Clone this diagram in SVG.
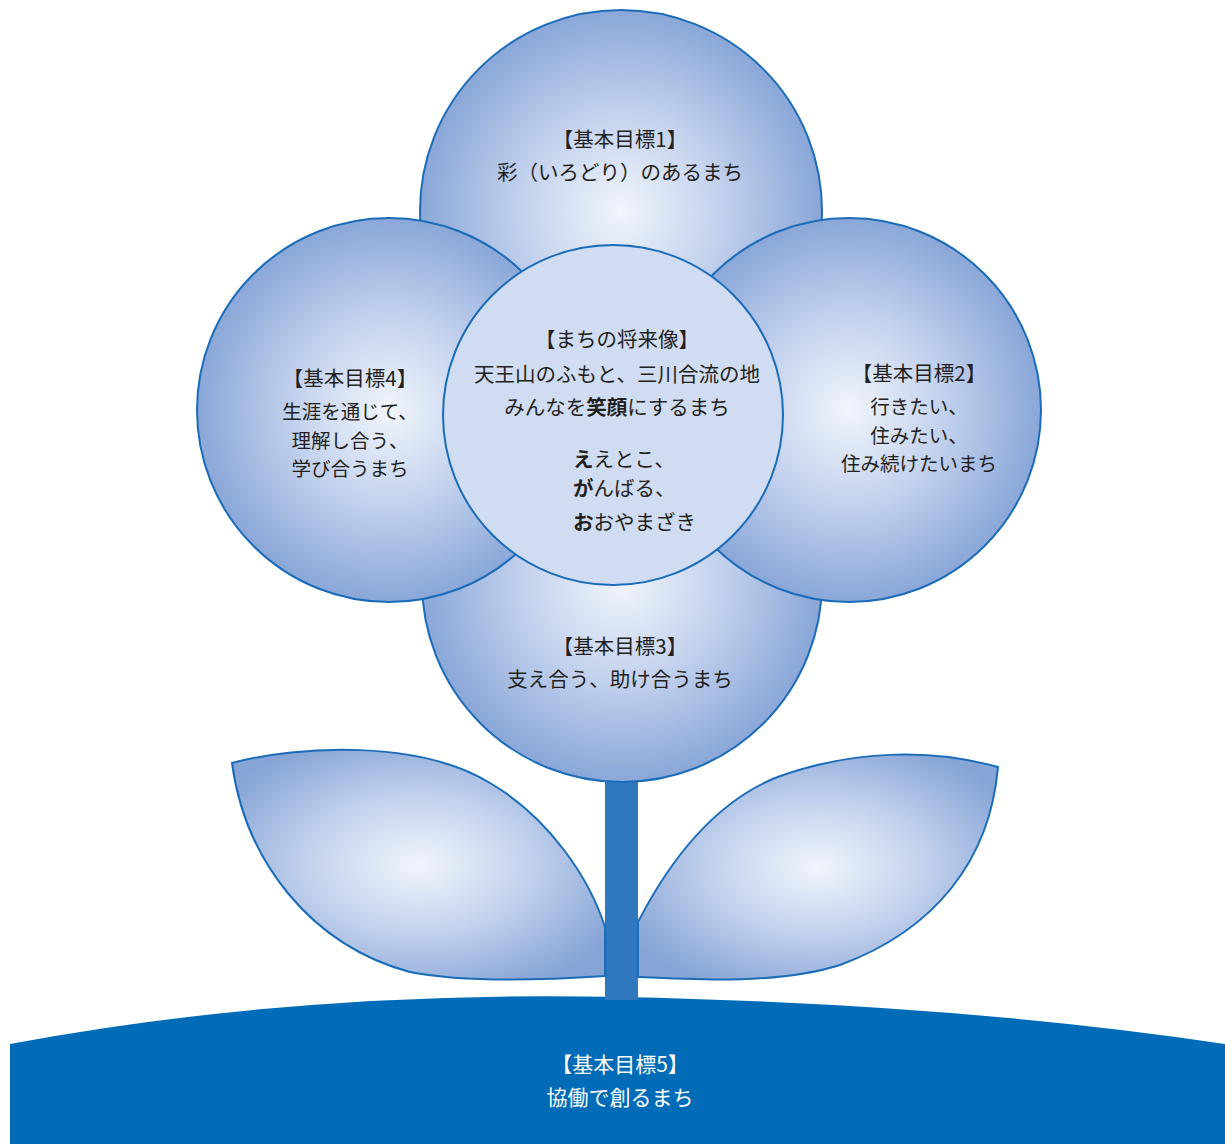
<svg xmlns="http://www.w3.org/2000/svg" width="1225" height="1144" viewBox="0 0 1225 1144">
<defs>
<radialGradient id="petal" cx="50%" cy="50%" r="50%">
<stop offset="0" stop-color="#f1f5fc"/>
<stop offset="0.5" stop-color="#c2d1ed"/>
<stop offset="1" stop-color="#8aa7d8"/>
</radialGradient>
<radialGradient id="leafL" cx="0.5" cy="0.5" r="0.6">
<stop offset="0" stop-color="#f1f5fc"/>
<stop offset="0.5" stop-color="#c2d1ed"/>
<stop offset="1" stop-color="#86a4d6"/>
</radialGradient>
<style>
.petal{fill:url(#petal);stroke:#1b6cb8;stroke-width:2}
.leaf{fill:url(#leafL);stroke:#1b6cb8;stroke-width:2}
.core{fill:#d0dcf2;stroke:#1b6cb8;stroke-width:2}
text{font-family:"Noto Sans CJK JP","Noto Sans CJK SC",sans-serif;font-size:20.5px;fill:#231f20;text-anchor:middle}
.s{font-size:19.5px}
.b{font-weight:bold}
.w{fill:#ffffff;font-size:21px}
.l{text-anchor:start}
</style>
</defs>
<g id="ground">
<path d="M10 1044 Q300 990 620 997 Q960 1004 1225 1044 L1225 1144 L10 1144 Z" fill="#006bb6"/>
<text class="w" x="620" y="1072">【基本目標5】</text>
<text class="w" x="620" y="1105">協働で創るまち</text>
</g>
<g id="stem">
<rect x="605" y="775" width="33" height="225" fill="#2f78c0"/>
</g>
<g id="leaf-left">
<path class="leaf" d="M232 763 C300 745 420 740 490 783 C550 818 590 880 605 927 L605 976 C560 979 470 984 410 972 C310 945 245 860 232 763 Z"/>
</g>
<g id="leaf-right">
<path class="leaf" d="M998 767 C930 748 850 750 775 778 C715 803 670 860 638 922 L638 977 C700 980 780 984 840 965 C935 930 990 860 998 767 Z"/>
</g>
<g id="goal1">
<circle class="petal" cx="621" cy="211" r="201"/>
<text x="620" y="147">【基本目標1】</text>
<text x="620" y="180">彩（いろどり）のあるまち</text>
</g>
<g id="goal3">
<circle class="petal" cx="622" cy="582" r="200"/>
<text x="620" y="654">【基本目標3】</text>
<text x="620" y="687">支え合う、助け合うまち</text>
</g>
<g id="goal4">
<circle class="petal" cx="389" cy="410" r="192"/>
<text x="350" y="386">【基本目標4】</text>
<text class="s" x="350" y="419">生涯を通じて、</text>
<text class="s" x="350" y="447.5">理解し合う、</text>
<text class="s" x="350" y="476">学び合うまち</text>
</g>
<g id="goal2">
<circle class="petal" cx="849" cy="410" r="192"/>
<text x="919" y="381">【基本目標2】</text>
<text class="s" x="919" y="414">行きたい、</text>
<text class="s" x="919" y="442.5">住みたい、</text>
<text class="s" x="919" y="471">住み続けたいまち</text>
</g>
<g id="vision">
<circle class="core" cx="613" cy="415" r="170"/>
<text x="617" y="347">【まちの将来像】</text>
<text x="617" y="382">天王山のふもと、三川合流の地</text>
<text x="617" y="415">みんなを<tspan class="b">笑顔</tspan>にするまち</text>
<text class="l" x="573" y="467"><tspan class="b">え</tspan>えとこ、</text>
<text class="l" x="573" y="496"><tspan class="b">が</tspan>んばる、</text>
<text class="l" x="573" y="530"><tspan class="b">お</tspan>おやまざき</text>
</g>
</svg>
